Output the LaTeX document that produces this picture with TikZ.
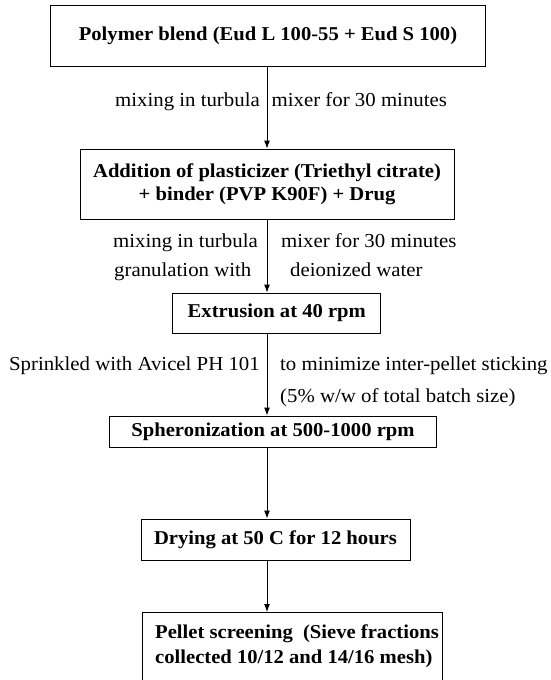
\documentclass[tikz,border=0pt]{standalone}
\usepackage{fontspec}
\setmainfont[FakeStretch=1.052]{Liberation Serif}
\usetikzlibrary{arrows.meta}

\tikzset{
  stepbox/.style={draw, line width=0.9pt, font=\bfseries\fontsize{19.6}{23}\selectfont, align=center, inner sep=0pt},
  steptext/.style={font=\bfseries\fontsize{19.6}{25}\selectfont, align=left, inner sep=0pt},
  steplabel/.style={font=\fontsize{19.8}{24}\selectfont, inner sep=0pt, text height=14pt, text depth=4pt},
  flow/.style={-{Latex[length=8pt,width=6pt]}, line width=0.9pt}
}

\begin{document}
\begin{tikzpicture}[x=1pt, y=-1pt]
\useasboundingbox (0,0) rectangle (550,680);
\coordinate (axis) at (267,0);

\node (blend) at (268,35.5) [stepbox, minimum width=435, minimum height=61] {Polymer blend (Eud L 100-55 + Eud S 100)};
\node (addition) at (267,184) [stepbox, minimum width=374, minimum height=70] {Addition of plasticizer (Triethyl citrate)\\+ binder (PVP K90F) + Drug};
\node (extrusion) at (276.8,313) [stepbox, minimum width=208, minimum height=40] {Extrusion at 40 rpm};
\node (spheron) at (273,431.5) [stepbox, minimum width=327, minimum height=31] {Spheronization at 500-1000 rpm};
\node (drying) at (275.5,539.5) [stepbox, minimum width=269, minimum height=41] {Drying at 50 C for 12 hours};
\node (pelletbox) at (141.5,612) [stepbox, anchor=north west, minimum width=300, minimum height=90] {};
\node (pellet) at (155,624) [steptext, anchor=north west] {Pellet screening\ \ (Sieve fractions\\collected 10/12 and 14/16 mesh)};

% process conditions beside the arrows
\node[steplabel, anchor=east] (mixa) at (260,101) {mixing in turbula};
\node[steplabel, anchor=west] (mixb) at (271.5,101) {mixer for 30 minutes};
\node[steplabel, anchor=east] (mixc) at (258,242) {mixing in turbula};
\node[steplabel, anchor=west] (mixd) at (281,242) {mixer for 30 minutes};
\node[steplabel, anchor=west] (grana) at (114,271) {granulation with};
\node[steplabel, anchor=west] (granb) at (290,271) {deionized water};
\node[steplabel, anchor=east] (sprinka) at (260,365) {Sprinkled with Avicel PH 101};
\node[steplabel, anchor=west] (sprinkb) at (280,365) {to minimize inter-pellet sticking};
\node[steplabel, anchor=west] (sprinkc) at (280,397) {(5\% w/w of total batch size)};

\draw[flow] (blend.south -| axis) -- (addition.north -| axis);
\draw[flow] (addition.south -| axis) -- (extrusion.north -| axis);
\draw[flow] (extrusion.south -| axis) -- (spheron.north -| axis);
\draw[flow] (spheron.south -| axis) -- (drying.north -| axis);
\draw[flow] (drying.south -| axis) -- (pelletbox.north -| axis);
\end{tikzpicture}
\end{document}
